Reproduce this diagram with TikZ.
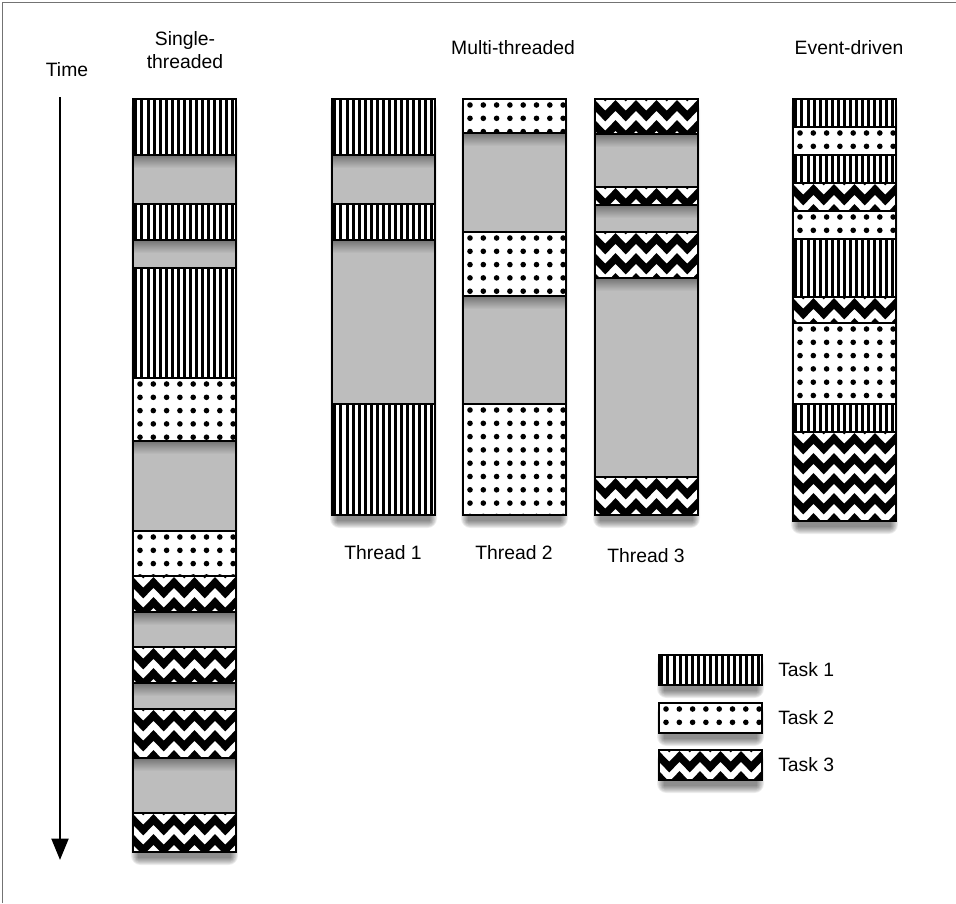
\documentclass[tikz,border=0pt]{standalone}
\usepackage{fontspec}
\setmainfont{Liberation Sans}
\usetikzlibrary{arrows.meta}

% blocks of one column: #1 left x, #2 top y, #3 bottom y
\newcommand{\colw}{103}
\newcommand{\stripeblock}[3]{%
  \begin{scope}
    \clip (#1,#2) rectangle ++(\colw,#3-#2);
    \fill[white] (#1,#2) rectangle ++(\colw,#3-#2);
    \foreach \s in {0,...,16}
      \fill (#1+1.4+\s*6.06,#2) rectangle ++(3,#3-#2);
  \end{scope}
  \draw[edge] (#1,#2) rectangle ++(\colw,#3-#2);}
\newcommand{\dotblock}[3]{%
  \begin{scope}
    \clip (#1,#2) rectangle ++(\colw,#3-#2);
    \fill[white] (#1,#2) rectangle ++(\colw,#3-#2);
    \foreach \i in {0,...,7}
      \foreach \j in {0,...,8}
        \fill (#1+7+\i*13.3,#2+6+\j*13.3) circle[radius=2.8];
  \end{scope}
  \draw[edge] (#1,#2) rectangle ++(\colw,#3-#2);}
\newcommand{\zigblock}[3]{%
  \begin{scope}
    \clip (#1,#2) rectangle ++(\colw,#3-#2);
    \fill[white] (#1,#2) rectangle ++(\colw,#3-#2);
    \foreach \r in {-1,...,4}
      \draw[zig] (#1-10.25,#2+17+\r*20)
        \foreach \k in {0,...,5} {-- ++(10.25,-10.5) -- ++(10.25,10.5)};
  \end{scope}
  \draw[edge] (#1,#2) rectangle ++(\colw,#3-#2);}
\newcommand{\idleblock}[3]{%
  \fill[idle] (#1,#2) rectangle ++(\colw,#3-#2);
  \shade[top color=black!55,bottom color=black!26] (#1,#2) rectangle ++(\colw,13);
  \draw[edge] (#1,#2) rectangle ++(\colw,#3-#2);}
\newcommand{\colshadow}[3]{%
  \foreach \k in {0,...,7}
    \fill[black,opacity=.07,rounded corners=\k pt] (#1+5-\k,#2+8-\k) rectangle (#1+\colw-5+\k,#3+6+\k);}

\begin{document}
\begin{tikzpicture}[x=0.75pt,y=-0.75pt,
  edge/.style={draw=black,line width=1pt},
  idle/.style={fill=black!26},
  zig/.style={line width=5.6pt,line join=miter},
  txt/.style={font=\fontsize{14.5}{17}\selectfont,inner sep=0pt},
  timearrow/.style={-{Triangle[length=16pt,width=12.5pt]},line width=2.2pt}
]
  \useasboundingbox (0,0) rectangle (956,903);
  \draw[black!55,line width=.8pt] (2.5,903) -- (2.5,2.5) -- (956,2.5);

  % time axis
  \node[txt] (time) at (67,70) {Time};
  \coordinate (tstart) at (60,97);
  \coordinate (tend) at (60,860);
  \draw[timearrow] (tstart) -- (tend);

  % headings
  \node[txt,align=center] (single) at (185,50) {Single-\\threaded};
  \node[txt] (multi) at (513,48) {Multi-threaded};
  \node[txt] (event) at (849,48) {Event-driven};

  % shadows
  \colshadow{133}{99}{852}
  \colshadow{332}{99}{515}
  \colshadow{463}{99}{515}
  \colshadow{595}{99}{515}
  \colshadow{793}{99}{521}
  \colshadow{659}{655}{685}
  \colshadow{659}{703}{733}
  \colshadow{659}{750}{780}

  % single-threaded
  \stripeblock{133}{99}{155}
  \idleblock{133}{155}{204}
  \stripeblock{133}{204}{240}
  \idleblock{133}{240}{268}
  \stripeblock{133}{268}{378}
  \dotblock{133}{378}{441}
  \idleblock{133}{441}{531}
  \dotblock{133}{531}{576}
  \zigblock{133}{576}{612}
  \idleblock{133}{612}{647}
  \zigblock{133}{647}{683}
  \idleblock{133}{683}{709}
  \zigblock{133}{709}{758}
  \idleblock{133}{758}{813}
  \zigblock{133}{813}{852}

  % multi-threaded
  \stripeblock{332}{99}{155}
  \idleblock{332}{155}{204}
  \stripeblock{332}{204}{240}
  \idleblock{332}{240}{404}
  \stripeblock{332}{404}{515}

  \dotblock{463}{99}{133}
  \idleblock{463}{133}{232}
  \dotblock{463}{232}{296}
  \idleblock{463}{296}{404}
  \dotblock{463}{404}{515}

  \zigblock{595}{99}{134}
  \idleblock{595}{134}{187}
  \zigblock{595}{187}{205}
  \idleblock{595}{205}{232}
  \zigblock{595}{232}{278}
  \idleblock{595}{278}{477}
  \zigblock{595}{477}{515}

  \node[txt] (thread1) at (383,553) {Thread 1};
  \node[txt] (thread2) at (514,553) {Thread 2};
  \node[txt] (thread3) at (646,556) {Thread 3};

  % event-driven
  \stripeblock{793}{99}{127}
  \dotblock{793}{127}{155}
  \stripeblock{793}{155}{183}
  \zigblock{793}{183}{211}
  \dotblock{793}{211}{239}
  \stripeblock{793}{239}{297}
  \zigblock{793}{297}{323}
  \dotblock{793}{323}{404}
  \stripeblock{793}{404}{432}
  \zigblock{793}{432}{521}

  % legend
  \stripeblock{659}{655}{685}
  \dotblock{659}{703}{733}
  \zigblock{659}{750}{780}
  \node[txt,anchor=west] (task1) at (778,670) {Task 1};
  \node[txt,anchor=west] (task2) at (778,718) {Task 2};
  \node[txt,anchor=west] (task3) at (778,765) {Task 3};
\end{tikzpicture}
\end{document}
